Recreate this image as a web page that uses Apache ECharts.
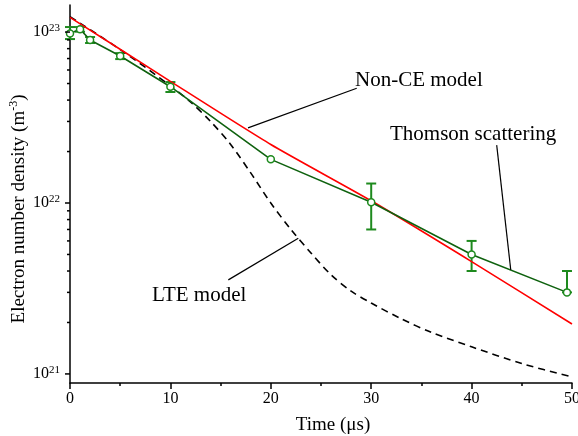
<!DOCTYPE html>
<html>
<head>
<meta charset="utf-8">
<script src="https://cdn.jsdelivr.net/npm/echarts@6/dist/echarts.min.js"></script>
<style>
  html, body { margin: 0; padding: 0; background: #fff; }
  #chart { width: 578px; height: 436px; }
</style>
</head>
<body>
<div id="chart"></div>
<script>
// Thomson scattering measurements
var tsTimes = [0, 1, 2, 5, 10, 20, 30, 40, 49.5];
var tsDensity = [9.8e22, 1.04e23, 8.98e22, 7.24e22, 4.79e22, 1.80e22, 1.01e22, 5.0e21, 3.0e21];
var tsLow = [9.1e22, 1.005e23, 8.63e22, 6.95e22, 4.46e22, 1.80e22, 7.0e21, 4.0e21, 3.0e21];
var tsHigh = [1.07e23, 1.07e23, 9.35e22, 7.53e22, 5.1e22, 1.80e22, 1.30e22, 6.0e21, 4.0e21];

// Non-CE model
var nonCeTimes = [0, 10, 20, 30, 40, 50];
var nonCeDensity = [1.22e23, 5.15e22, 2.2e22, 1.03e22, 4.54e21, 1.96e21];

// LTE model
var lteTimes = [0, 5, 10, 12, 14, 16, 18, 20, 22, 24, 26, 28, 30, 33, 36, 40, 45, 50];
var lteDensity = [1.23e23, 7.9e22, 4.85e22, 3.9e22, 3.0e22, 2.2e22, 1.5e22, 1.0e22, 7.0e21,
                  5.1e21, 3.8e21, 3.05e21, 2.6e21, 2.1e21, 1.75e21, 1.44e21, 1.15e21, 9.6e20];

// y axis ticks
var yMajorTicks = [1e21, 1e22, 1e23];
var yMinorTicks = [2e21, 3e21, 4e21, 5e21, 6e21, 7e21, 8e21, 9e21,
                   2e22, 3e22, 4e22, 5e22, 6e22, 7e22, 8e22, 9e22];

var FONT = '"Liberation Serif", "DejaVu Serif", serif';

function pairs(xs, ys) {
  return xs.map(function (x, i) { return [x, ys[i]]; });
}

var chart = echarts.init(document.getElementById('chart'));

var tickData = yMajorTicks.map(function (v) { return [0, v, 5]; })
  .concat(yMinorTicks.map(function (v) { return [0, v, 3]; }));

var errData = tsTimes.map(function (t, i) { return [t, tsLow[i], tsHigh[i]]; });

// leader lines for the labels, in data units
var leaderOpt = {
  silent: true, symbol: ['none', 'none'], label: { show: false },
  lineStyle: { color: '#000', width: 1.2, type: 'solid' }
};

chart.setOption({
  animation: false,
  grid: { left: 70, right: 6, top: 5, bottom: 53, containLabel: false, outerBoundsMode: 'none' },
  xAxis: {
    type: 'value',
    min: 0,
    max: 50,
    interval: 10,
    axisLine: { lineStyle: { color: '#000', width: 1.5 } },
    axisTick: { inside: false, length: 6, lineStyle: { color: '#000', width: 1.5 } },
    minorTick: { show: true, splitNumber: 2, length: 3, lineStyle: { color: '#000', width: 1.5 } },
    splitLine: { show: false },
    axisLabel: { color: '#000', fontFamily: FONT, fontSize: 16, margin: 8 }
  },
  yAxis: {
    type: 'log',
    logBase: 10,
    min: 8.85e20,
    max: 1.44e23,
    axisLine: { show: true, lineStyle: { color: '#000', width: 1.5 } },
    axisTick: { show: false },
    splitLine: { show: false },
    axisLabel: {
      margin: 10,
      formatter: function (v) {
        var l = Math.log10(v);
        var e = Math.round(l);
        if (Math.abs(l - e) > 1e-6) return '';
        return '{b|10}{s|' + e + '}';
      },
      rich: {
        b: { fontFamily: FONT, fontSize: 16, color: '#000', lineHeight: 18 },
        s: { fontFamily: FONT, fontSize: 11, color: '#000', verticalAlign: 'top', lineHeight: 18 }
      }
    }
  },
  graphic: [
    {
      type: 'text', x: 19, y: 209, rotation: Math.PI / 2,
      style: {
        text: '{a|Electron number density (m}{s|-3}{a|)}',
        align: 'center', verticalAlign: 'middle',
        rich: {
          a: { fontFamily: FONT, fontSize: 19, fill: '#000', lineHeight: 22 },
          s: { fontFamily: FONT, fontSize: 12, fill: '#000', verticalAlign: 'top', lineHeight: 22 }
        }
      }
    },
    {
      type: 'text', x: 333, y: 425,
      style: { text: 'Time (\u03bcs)', font: '19px ' + FONT, fill: '#000', align: 'center', verticalAlign: 'middle' }
    },
    {
      type: 'text', x: 355, y: 80,
      style: { text: 'Non-CE model', font: '21px ' + FONT, fill: '#000', align: 'left', verticalAlign: 'middle' }
    },
    {
      type: 'text', x: 390, y: 134,
      style: { text: 'Thomson scattering', font: '21px ' + FONT, fill: '#000', align: 'left', verticalAlign: 'middle' }
    },
    {
      type: 'text', x: 152, y: 295,
      style: { text: 'LTE model', font: '21px ' + FONT, fill: '#000', align: 'left', verticalAlign: 'middle' }
    }
  ],
  series: [
    {
      name: 'LTE model',
      type: 'line',
      data: pairs(lteTimes, lteDensity),
      smooth: 0.3,
      symbol: 'none',
      lineStyle: { color: '#000', width: 1.6, type: [7, 5] },
      markLine: Object.assign({}, leaderOpt, {
        data: [[{ coord: [15.77, 3.55e21] }, { coord: [22.74, 6.22e21] }]]
      })
    },
    {
      name: 'Non-CE model',
      type: 'line',
      data: pairs(nonCeTimes, nonCeDensity),
      smooth: 0.2,
      symbol: 'none',
      lineStyle: { color: '#ff0000', width: 1.6 },
      markLine: Object.assign({}, leaderOpt, {
        data: [[{ coord: [17.73, 2.75e22] }, { coord: [28.56, 4.69e22] }]]
      })
    },
    {
      name: 'Thomson error',
      type: 'custom',
      data: errData,
      encode: { x: 0, y: [1, 2] },
      renderItem: function (params, api) {
        var lo = api.coord([api.value(0), api.value(1)]);
        var hi = api.coord([api.value(0), api.value(2)]);
        if (Math.abs(lo[1] - hi[1]) < 1) return null;
        var w = 5;
        var st = { stroke: '#1e8a1e', lineWidth: 2 };
        return {
          type: 'group',
          children: [
            { type: 'line', shape: { x1: lo[0], y1: lo[1], x2: hi[0], y2: hi[1] }, style: st },
            { type: 'line', shape: { x1: lo[0] - w, y1: lo[1], x2: lo[0] + w, y2: lo[1] }, style: st },
            { type: 'line', shape: { x1: hi[0] - w, y1: hi[1], x2: hi[0] + w, y2: hi[1] }, style: st }
          ]
        };
      },
      clip: false,
      z: 3
    },
    {
      name: 'Thomson scattering',
      type: 'line',
      data: pairs(tsTimes, tsDensity),
      symbol: 'circle',
      symbolSize: 7,
      showAllSymbol: true,
      lineStyle: { color: '#0f620f', width: 1.6 },
      itemStyle: { color: '#fff', borderColor: '#1e8a1e', borderWidth: 1.5 },
      z: 4,
      markLine: Object.assign({}, leaderOpt, {
        data: [[{ coord: [42.5, 2.18e22] }, { coord: [43.9, 4.06e21] }]]
      })
    },
    {
      name: 'y ticks',
      type: 'custom',
      data: tickData,
      encode: { x: 0, y: 1 },
      renderItem: function (params, api) {
        var p = api.coord([api.value(0), api.value(1)]);
        var len = api.value(2);
        return {
          type: 'line',
          shape: { x1: p[0] - len, y1: p[1], x2: p[0], y2: p[1] },
          style: { stroke: '#000', lineWidth: 1.5 }
        };
      },
      clip: false,
      silent: true,
      z: 5
    }
  ]
});
</script>
</body>
</html>
